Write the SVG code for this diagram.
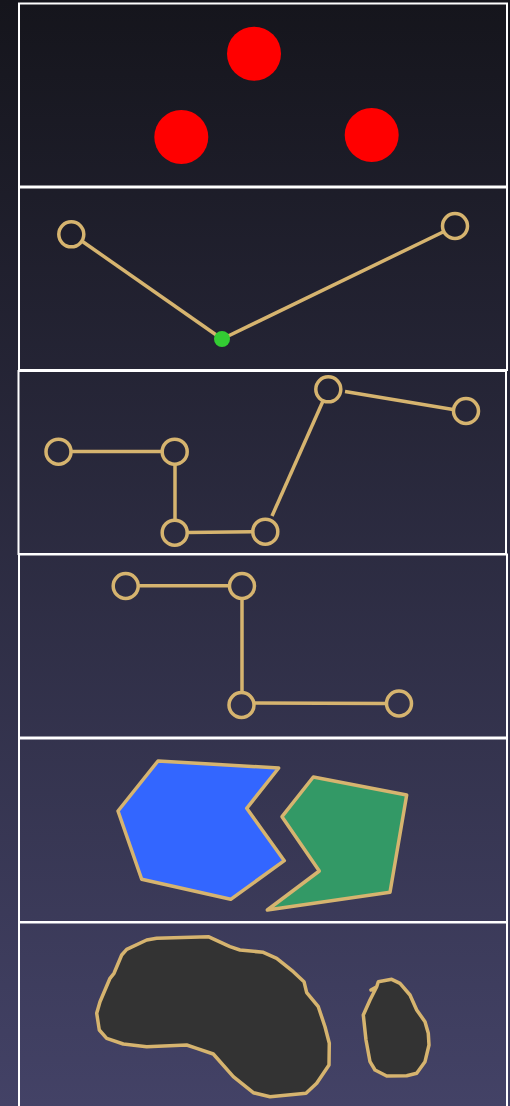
<svg xmlns="http://www.w3.org/2000/svg" width="510" height="1106" viewBox="0 0 510 1106">
<defs>
<linearGradient id="bg" x1="0" y1="0" x2="0" y2="1">
<stop offset="0" stop-color="#15151c"/>
<stop offset="1" stop-color="#434266"/>
</linearGradient>
</defs>
<style>
.panel{fill:none;stroke:#ffffff;stroke-width:2}
.ring{fill:none;stroke:#d6b46f;stroke-width:3.5}
.link{fill:none;stroke:#d6b46f;stroke-width:3.5}
.red{fill:#ff0000}
.shape{stroke:#d6b46f;stroke-width:3.5;stroke-linejoin:round}
</style>
<rect width="510" height="1106" fill="url(#bg)"/>
<g id="panels">
<rect class="panel" x="19" y="3.5" width="488" height="183"/>
<rect class="panel" x="19" y="187.5" width="488" height="182.5"/>
<rect class="panel" x="18.5" y="371" width="487.5" height="183"/>
<rect class="panel" x="19" y="554.5" width="488" height="183"/>
<rect class="panel" x="19" y="738.5" width="488" height="183.5"/>
<rect class="panel" x="19" y="922.5" width="488" height="190"/>
</g>
<g id="connectors">
<line class="link" x1="82.5" y1="241.5" x2="222" y2="339"/>
<line class="link" x1="443" y1="232" x2="222" y2="339"/>
<line class="link" x1="71" y1="451.5" x2="162" y2="451.5"/>
<line class="link" x1="175" y1="464.5" x2="175" y2="520"/>
<line class="link" x1="187.5" y1="532.5" x2="252.5" y2="531.8"/>
<line class="link" x1="272" y1="516" x2="323" y2="401"/>
<line class="link" x1="345" y1="391.5" x2="453" y2="409.5"/>
<line class="link" x1="138.5" y1="585.8" x2="229" y2="585.8"/>
<line class="link" x1="242" y1="598.5" x2="242" y2="692.5"/>
<line class="link" x1="254" y1="703" x2="386.5" y2="703.5"/>
</g>
<g id="panel1">
<circle id="red-a" class="red" cx="254" cy="53.7" r="27"/>
<circle id="red-b" class="red" cx="181.3" cy="137" r="27"/>
<circle id="red-c" class="red" cx="371.7" cy="135" r="27"/>
</g>
<g id="panel2">
<circle id="p2-n1" class="ring" cx="71.3" cy="234.3" r="12.5"/>
<circle id="p2-n2" class="ring" cx="455" cy="226" r="12.5"/>
<circle id="p2-hub" cx="222" cy="339" r="8" fill="#33cc33"/>
</g>
<g id="panel3">
<circle id="p3-n1" class="ring" cx="58.5" cy="451.7" r="12.5"/>
<circle id="p3-n2" class="ring" cx="174.7" cy="451.7" r="12.5"/>
<circle id="p3-n3" class="ring" cx="174.7" cy="532.7" r="12.5"/>
<circle id="p3-n4" class="ring" cx="265.3" cy="531.7" r="12.5"/>
<circle id="p3-n5" class="ring" cx="328.3" cy="389.3" r="12.5"/>
<circle id="p3-n6" class="ring" cx="466" cy="411" r="12.5"/>
</g>
<g id="panel4">
<circle id="p4-n1" class="ring" cx="125.7" cy="586" r="12.5"/>
<circle id="p4-n2" class="ring" cx="242" cy="586" r="12.5"/>
<circle id="p4-n3" class="ring" cx="241.5" cy="705" r="12.5"/>
<circle id="p4-n4" class="ring" cx="399" cy="703.5" r="12.5"/>
</g>
<g id="panel5">
<polygon id="blue-shape" class="shape" fill="#3366ff" points="158,761 278.7,768 246.7,808.3 284.3,860.7 230.7,899.3 141.7,879.3 118,811"/>
<polygon id="green-shape" class="shape" fill="#339966" points="313.3,777 406.7,795 390,892.3 267.3,910 319.3,871 282,816.7"/>
</g>
<g id="panel6">
<path id="big-blob" class="shape" fill="#333333" d="M126.7,949.3 L146.7,940 L156.7,938.3 L208.3,936.7 L230,946.7 L240,950 L263.3,952.3 L276.7,958.3 L293.3,971.7 L304,981.7 L306.7,992.7 L318.3,1006.7 L325,1026.7 L329.3,1043.3 L329,1065 L316.7,1083.3 L306,1093.3 L270,1096.7 L253.3,1092.7 L233.3,1076.7 L213.3,1054 L196.7,1048.3 L186.7,1045 L146.7,1046.7 L123.3,1044 L106.7,1038.3 L99.3,1030 L96.7,1013.3 L100,1001.7 L110,978.3 L114,973.3 L121.7,955 Z"/>
<path id="small-blob" class="shape" fill="#333333" d="M378.3,981.7 L391.7,979.3 L400,983.3 L410,995 L416.7,1010 L425,1021.7 L428.3,1033.3 L429,1045 L425,1061.7 L416.7,1073.3 L406.7,1075.7 L386.7,1076 L375,1070 L370,1061.7 L366,1040 L363.3,1015 L370,1000 L376.7,986.7 L371,990 L376.7,986.7 Z"/>
</g>
</svg>
